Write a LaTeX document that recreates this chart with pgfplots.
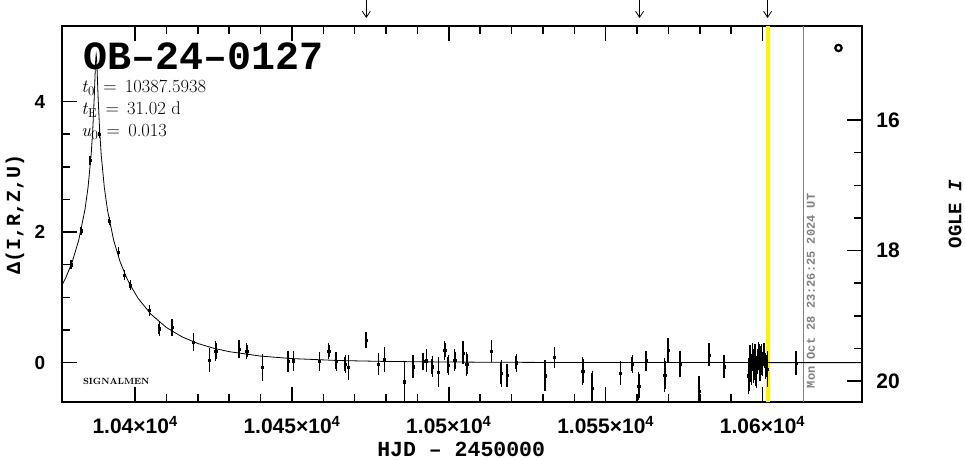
\documentclass[border=0pt]{standalone}
\usepackage{fontspec}
\usepackage{pgfplots}
\usepackage{pgfplotstable}
\pgfplotsset{compat=1.18}
\usetikzlibrary{arrows.meta}
\newfontfamily\monof{Liberation Mono}
\newfontfamily\sansf{Liberation Sans}

% photometry: HJD-2450000, Delta mag, error
\pgfplotstableread{
x y e
10379.6 1.50 0.03
10382.7 2.02 0.03
10385.6 3.10 0.03
10388.6 3.50 0.03
10391.8 2.17 0.03
10394.7 1.69 0.04
10396.6 1.34 0.04
10398.5 1.19 0.04
10404.6 0.80 0.05
10407.7 0.52 0.08
10411.7 0.54 0.09
10418.6 0.32 0.10
10423.7 0.04 0.15
10425.7 0.18 0.12
10433.1 0.21 0.11
10435.6 0.18 0.09
10440.6 -0.07 0.17
10448.7 0.02 0.12
10450.5 0.03 0.12
10458.8 0.02 0.11
10461.7 0.18 0.09
10464.1 0.02 0.11
10467.0 -0.02 0.11
10468.0 -0.07 0.16
10473.6 0.35 0.09
10477.6 -0.02 0.14
10479.5 0.05 0.15
10485.9 -0.29 0.26
10488.6 -0.06 0.14
10491.8 0.02 0.10
10492.9 0.03 0.14
10494.7 -0.06 0.12
10496.7 -0.14 0.19
10498.7 0.19 0.11
10499.8 -0.04 0.12
10501.9 0.04 0.13
10504.5 0.15 0.14
10505.7 -0.02 0.15
10513.6 0.18 0.14
10516.7 -0.16 0.17
10518.6 -0.19 0.14
10521.5 0.00 0.10
10530.6 -0.20 0.20
10533.7 0.08 0.12
10542.7 -0.13 0.18
10545.7 -0.39 0.23
10554.7 -0.16 0.15
10558.5 -0.02 0.10
10560.5 -0.36 0.18
10562.9 0.03 0.12
10568.8 -0.19 0.22
10569.8 0.19 0.16
10573.7 -0.02 0.17
10579.7 -0.44 0.20
10582.9 0.12 0.14
10587.7 -0.06 0.14
10595.6 -0.20 0.24
10596.0 0.05 0.18
10596.4 -0.10 0.20
10596.8 0.12 0.15
10597.2 -0.05 0.22
10597.6 0.08 0.17
10598.0 -0.15 0.20
10598.4 0.02 0.15
10598.8 0.10 0.18
10599.2 -0.08 0.16
10599.6 0.05 0.20
10600.0 -0.02 0.15
10600.5 0.12 0.14
10601.0 -0.05 0.17
10601.6 -0.10 0.24
10610.7 -0.01 0.15
}\obs

% model curve, read off the fit
\pgfplotstableread{
x y
10376.7 1.184
10378 1.311
10380 1.550
10382 1.870
10384 2.339
10385 2.684
10386 3.191
10386.5 3.563
10387 4.089
10387.3 4.484
10387.45 4.650
10387.59 4.715
10387.74 4.650
10387.89 4.484
10388.19 4.089
10388.69 3.563
10389.19 3.191
10390.19 2.684
10391.19 2.339
10393.19 1.870
10395.19 1.550
10397.19 1.311
10398.49 1.184
10401 0.983
10405 0.745
10410 0.538
10415 0.395
10420 0.294
10425 0.222
10430 0.169
10440 0.101
10450 0.063
10465 0.033
10480 0.019
10500 0.010
10530 0.004
10570 0.002
10631.7 0.001
}\model

\begin{document}
\begin{tikzpicture}
\useasboundingbox (-62pt,-57pt) rectangle (903pt,402pt);
\begin{axis}[
  scale only axis, width=800pt, height=376pt,
  xmin=10376.7, xmax=10631.7, ymin=-0.602, ymax=5.156,
  axis line style={line width=1.5pt},
  tick align=inside,
  major tick length=15pt, minor tick length=8pt,
  every tick/.style={black, line width=1.5pt},
  scaled x ticks=false,
  xtick={10400,10450,10500,10550,10600},
  xticklabels={1.04×10\textsuperscript{4},1.045×10\textsuperscript{4},1.05×10\textsuperscript{4},1.055×10\textsuperscript{4},1.06×10\textsuperscript{4}},
  minor x tick num=4,
  ytick={0,2,4}, yticklabels={0,2,4},
  minor y tick num=3,
  ytick pos=left,
  xticklabel style={anchor=center, yshift=-23pt, font=\sansf\bfseries\fontsize{21}{21}\selectfont},
  yticklabel style={anchor=center, xshift=-22pt, font=\sansf\bfseries\fontsize{19}{19}\selectfont},
  xlabel={HJD – 2450000},
  xlabel style={at={(axis description cs:0.499,0)}, anchor=center, yshift=-47pt, font=\monof\bfseries\fontsize{21.5}{21.5}\selectfont},
  ylabel={Δ(I,R,Z,U)},
  ylabel style={at={(axis description cs:0,0.5)}, anchor=center, yshift=47pt, font=\monof\bfseries\fontsize{20}{20}\selectfont},
]
\draw[yellow, line width=4pt] (axis cs:10601.6,-0.602) -- (axis cs:10601.6,5.156);
\draw[gray, line width=1pt] (axis cs:10612.9,-0.602) -- (axis cs:10612.9,5.156);
\node[rotate=90, text=gray, font=\monof\bfseries\fontsize{12}{12}\selectfont] at (axis cs:10615.4,1.10) {Mon Oct 28 23:26:25 2024 UT};

\addplot[black, line width=0.8pt] table[x=x, y=y] {\model};
\addplot[black, only marks, mark=square*, mark size=1.1pt,
  error bars/.cd, y dir=both, y explicit,
  error bar style={line width=1.8pt},
  error mark options={line width=1.4pt, mark size=2.3pt}]
  table[x=x, y=y, y error=e] {\obs};
\addplot[black, only marks, mark=o, mark size=3.2pt, line width=2.2pt] coordinates {(10624.2,4.82)};

\node[anchor=west, inner sep=0, font=\monof\bfseries\fontsize{40}{40}\selectfont] at (rel axis cs:0.026,0.92) {OB–24–0127};
\node[anchor=west, inner sep=0, font=\fontsize{18.5}{18.5}\selectfont] at (rel axis cs:0.024,0.835) {\textit{t}\textsubscript{0}\hspace{0.45em}=\hspace{0.45em}10387.5938};
\node[anchor=west, inner sep=0, font=\fontsize{18.5}{18.5}\selectfont] at (rel axis cs:0.024,0.777) {\textit{t}\textsubscript{E}\hspace{0.45em}=\hspace{0.45em}31.02 d};
\node[anchor=west, inner sep=0, font=\fontsize{18.5}{18.5}\selectfont] at (rel axis cs:0.024,0.718) {\textit{u}\textsubscript{0}\hspace{0.45em}=\hspace{0.45em}0.013};
\node[anchor=west, inner sep=0, font=\bfseries\fontsize{9}{9}\selectfont] at (rel axis cs:0.026,0.056) {SIGNALMEN};

\coordinate (a1) at (axis cs:10473.7,5.156);
\coordinate (a2) at (axis cs:10560.8,5.156);
\coordinate (a3) at (axis cs:10601.6,5.156);
\coordinate (rl) at (rel axis cs:1,0.5);
\end{axis}

\begin{axis}[
  scale only axis, width=800pt, height=376pt,
  xmin=10376.7, xmax=10631.7, ymin=14.559, ymax=20.322, y dir=reverse,
  hide x axis, axis y line*=right,
  axis line style={line width=1.5pt},
  tick align=inside,
  major tick length=15pt, minor tick length=8pt,
  every tick/.style={black, line width=1.5pt},
  ytick={16,18,20}, yticklabels={16,18,20},
  minor y tick num=3,
  yticklabel style={anchor=center, xshift=26pt, font=\sansf\bfseries\fontsize{21}{21}\selectfont},
]
\end{axis}

\node[xshift=93pt, rotate=90, font=\monof\bfseries\fontsize{19}{19}\selectfont] at (rl) {OGLE \textit{I}};
\foreach \a in {a1,a2,a3}
  \draw[line width=0.8pt, -{Straight Barb[length=6pt, width=8pt]}] ([yshift=26pt]\a) -- ([yshift=8pt]\a);
\end{tikzpicture}
\end{document}
